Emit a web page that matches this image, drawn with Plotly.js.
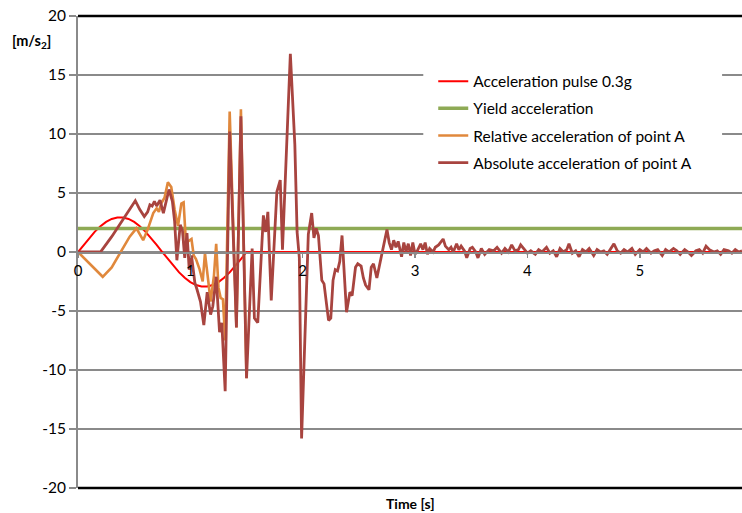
<!DOCTYPE html>
<html>
<head>
<meta charset="utf-8">
<script src="https://cdn.plot.ly/plotly-3.0.1.min.js"></script>
<style>html,body{margin:0;padding:0;background:#fff;}#chart{width:742px;height:513px;}</style>
</head>
<body>
<div id="chart"></div>
<script>
// ---- Data ----
const seriesNames = ["Acceleration pulse 0.3g", "Yield acceleration", "Relative acceleration of point A", "Absolute acceleration of point A"];

const pulseTime = [0,0.05,0.1,0.15,0.2,0.25,0.3,0.35,0.4,0.45,0.5,0.55,0.6,0.65,0.7,0.75,0.8,0.85,0.9,0.95,1.0,1.05,1.1,1.15,1.2,1.25,1.3,1.35,1.4,1.45,1.5,5.91];
const pulseAccel = [0,0.61,1.2,1.73,2.19,2.55,2.8,2.93,2.92,2.8,2.55,2.19,1.73,1.2,0.61,0,-0.61,-1.2,-1.73,-2.19,-2.55,-2.8,-2.93,-2.92,-2.8,-2.55,-2.19,-1.73,-1.2,-0.61,0,0];

const yieldTime = [0, 5.91];
const yieldAccel = [2, 2];

const relTime = [0,0.22,0.30,0.40,0.46,0.52,0.55,0.58,0.62,0.67,0.70,0.72,0.74,0.77,0.80,0.83,0.86,0.89,0.92,0.94,0.96,0.98,1.01,1.03,1.05,1.08,1.11,1.13,1.16,1.18,1.21,1.23,1.25,1.27,1.29,1.31,1.35,1.38,1.41,1.45,1.50];
const relAccel = [0,-2.1,-1.3,0.3,1.3,2.0,1.5,1.0,1.9,3.3,3.7,3.4,4.1,4.6,5.9,5.5,3.6,2.2,4.1,4.2,0.9,0.9,1.1,-0.3,-0.6,-1.4,-2.5,-0.1,-2.5,-4.2,-2.0,0.7,-3.0,-3.9,-4.0,-7.5,11.9,2.8,-6.4,12.1,-10.7];

const absTime = [0,0.10,0.20,0.30,0.40,0.51,0.55,0.59,0.62,0.64,0.66,0.68,0.70,0.73,0.76,0.78,0.81,0.84,0.86,0.88,0.91,0.93,0.95,0.97,0.99,1.01,1.04,1.06,1.09,1.12,1.15,1.18,1.20,1.23,1.26,1.28,1.31,1.35,1.38,1.41,1.45,1.50,1.55,1.57,1.60,1.65,1.67,1.69,1.72,1.77,1.80,1.82,1.89,1.93,1.95,1.97,1.99,
  2.05,2.08,2.10,2.12,2.14,2.17,2.19,2.23,2.25,2.27,2.29,2.31,2.33,2.35,2.39,2.42,2.44,2.47,2.49,2.52,2.54,2.56,2.59,2.61,2.63,2.66,2.68,2.70,2.72,2.75,2.77,2.79,2.81,2.83,2.85,2.88,2.90,2.92,2.94,2.96,2.98,
  3.00,3.02,3.05,3.07,3.09,3.11,3.13,3.16,3.18,3.21,3.23,3.25,3.27,3.30,3.32,3.34,3.37,3.39,3.41,3.44,3.46,3.49,3.51,3.54,3.56,
  3.59,3.62,3.66,3.70,3.73,3.77,3.80,3.83,3.86,3.89,3.92,3.94,3.97,4.00,4.03,4.07,4.10,4.13,4.17,4.20,4.23,4.26,4.29,4.32,4.35,4.37,4.40,4.43,4.46,4.49,
  4.52,4.55,4.59,4.62,4.65,4.68,4.71,4.74,4.77,4.80,4.83,4.86,4.89,4.93,4.96,5.00,5.03,5.06,5.10,5.13,5.16,5.20,5.23,5.26,5.30,5.33,5.36,5.40,5.43,5.46,
  5.50,5.53,5.56,5.59,5.62,5.66,5.69,5.72,5.75,5.79,5.82,5.85,5.88,5.91];
const absAccel = [0,0,0,1.3,2.8,4.35,3.6,3.0,3.4,4.0,3.9,4.3,3.9,4.4,3.3,4.2,5.3,4.3,2.6,-0.7,2.3,1.8,-0.5,1.6,-1.5,-0.3,-2.6,-3.2,-4.2,-6.2,-3.4,-5.3,-4.6,-2.1,-6.8,-6.0,-11.8,10.2,1.4,-6.4,11.5,-10.7,0.3,-5.6,-6.0,3.1,1.7,3.4,-4.1,5.1,6.1,0.2,16.8,9.1,1.7,-0.5,-15.8,
  1.5,3.3,1.2,2.0,1.4,-2.4,-2.7,-5.8,-5.6,-2.4,-1.5,-1.6,-0.8,1.4,-5.1,-3.4,-3.7,-1.3,-1.0,-1.2,-2.2,-2.8,-3.2,-1.3,-1.0,-2.2,-1.3,-0.6,0.3,1.9,0.8,0.2,1.0,0.4,0.9,-0.4,0.8,0.0,0.7,-0.3,0.8,
  -0.2,0.1,0.7,0.2,0.8,-0.2,0.3,0.0,0.4,0.6,0.9,1.1,0.5,0.2,0.4,0.0,0.7,0.2,0.5,0.1,-0.5,0.3,0.4,0.0,-0.5,
  0.3,-0.2,0.2,0.1,0.4,-0.1,0.3,0.0,0.6,0.1,0.2,0.6,0.2,-0.1,0.1,-0.2,0.2,0.0,0.4,-0.1,0.1,-0.4,0.3,0.0,0.2,0.7,-0.1,0.1,-0.4,0.2,
  0.0,0.3,-0.3,0.2,0.0,0.1,-0.2,0.2,0.7,0.1,-0.1,0.2,0.0,0.3,-0.2,0.2,0.0,0.3,-0.1,0.1,0.2,-0.3,0.2,0.0,0.3,0.1,-0.2,0.2,0.0,-0.3,
  0.1,0.2,-0.1,0.5,0.2,0.0,0.1,-0.2,0.2,0.1,-0.1,0.2,0.0,0.1];

const yTickVals = [-20,-15,-10,-5,0,5,10,15,20];
const xTickVals = [0,1,2,3,4,5];

// ---- Chart ----
const FONT = "Lato, 'Open Sans', sans-serif";
const GRID = "#8a8a8a";

const traces = [
  {x: pulseTime, y: pulseAccel, name: seriesNames[0], legendgroup: "a", mode: "lines", line: {color: "#ff0000", width: 2}},
  {x: yieldTime, y: yieldAccel, name: seriesNames[1], legendgroup: "b", mode: "lines", line: {color: "#8eaa55", width: 3.5}},
  {x: relTime, y: relAccel, name: seriesNames[2], legendgroup: "c", mode: "lines", line: {color: "#e0883c", width: 2.6}},
  {x: absTime, y: absAccel, name: seriesNames[3], legendgroup: "d", mode: "lines", line: {color: "#a8443f", width: 2.8}}
];

const layout = {
  width: 742, height: 513,
  margin: {l: 78, r: 0, t: 16, b: 25, pad: 0},
  paper_bgcolor: "#ffffff", plot_bgcolor: "#ffffff",
  font: {family: FONT, size: 14, color: "#000"},
  showlegend: true,
  legend: {
    x: 0.535, y: 0.897, xanchor: "left", yanchor: "top",
    bgcolor: "#ffffff", borderwidth: 0,
    font: {family: FONT, size: 15.5, color: "#000"},
    tracegroupgap: 4, traceorder: "grouped", itemwidth: 30
  },
  xaxis: {
    range: [0, 5.91], anchor: "free", position: 0.5,
    tickvals: xTickVals, ticktext: xTickVals.map(String),
    ticks: "outside", ticklen: 4, tickcolor: GRID, tickwidth: 1.5,
    showline: true, linecolor: GRID, linewidth: 1.5,
    showgrid: false, zeroline: false,
    tickfont: {family: FONT, size: 15, color: "#000"},
    automargin: false, fixedrange: true
  },
  yaxis: {
    range: [-20, 20], tickvals: yTickVals, ticktext: yTickVals.map(String),
    showgrid: true, gridcolor: GRID, gridwidth: 1.5,
    showline: true, linecolor: GRID, linewidth: 2,
    ticks: "outside", ticklen: 7, tickcolor: GRID, tickwidth: 1.5,
    zeroline: false,
    tickfont: {family: FONT, size: 15.5, color: "#000"},
    automargin: false, fixedrange: true
  },
  shapes: [
    {type: "line", xref: "paper", yref: "paper", x0: 0, x1: 1, y0: 1, y1: 1, line: {color: "#000", width: 2.5}},
    {type: "line", xref: "paper", yref: "paper", x0: 0, x1: 1, y0: 0, y1: 0, line: {color: "#000", width: 2.5}},
    {type: "rect", xref: "paper", yref: "paper", x0: 0.52, x1: 0.97, y0: 0.64, y1: 0.905, layer: "above", fillcolor: "#ffffff", line: {width: 0}}
  ],
  annotations: [
    {text: "<b>[m/s<sub>2</sub>]</b>", xref: "paper", yref: "paper", x: -0.07, y: 0.945, xanchor: "center", yanchor: "middle", showarrow: false, font: {family: FONT, size: 14.5, color: "#000"}},
    {text: "<b>Time [s]</b>", xref: "paper", yref: "paper", x: 0.5, y: -0.032, xanchor: "center", yanchor: "middle", showarrow: false, font: {family: FONT, size: 14, color: "#000"}}
  ]
};

Plotly.newPlot("chart", traces, layout, {displayModeBar: false, staticPlot: true});
</script>
</body>
</html>
